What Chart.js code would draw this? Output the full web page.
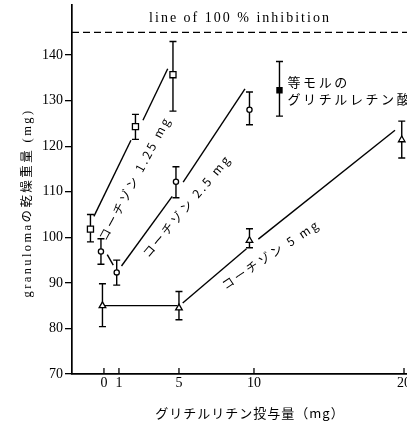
<!DOCTYPE html>
<html>
<head>
<meta charset="utf-8">
<script src="https://cdn.jsdelivr.net/npm/chart.js@4/dist/chart.umd.min.js"></script>
<style>
  html, body { margin: 0; padding: 0; background: #fff; }
</style>
</head>
<body>
<canvas id="chart" width="407" height="425"></canvas>
<script>
const xTicks = [0, 1, 5, 10, 20];
const yTicks = [70, 80, 90, 100, 110, 120, 130, 140];
const inhibitionLevel = 145;

// コーチゾン 1.25 mg (open squares)
const c125X = [-0.9, 2.1, 4.6];
const c125Y = [101.8, 124.3, 135.7];
const c125Lo = [99, 121.5, 127.7];
const c125Hi = [105, 127, 143];
const c125LineX = [[-0.67, 1.8], [2.6, 4.25]];
const c125LineY = [[104.6, 121.3], [125.7, 137]];

// コーチゾン 2.5 mg (open circles)
const c25X = [-0.2, 0.85, 4.8, 9.7];
const c25Y = [96.9, 92.3, 112.2, 128];
const c25Lo = [94.1, 89.5, 108.7, 124.7];
const c25Hi = [99.7, 95, 115.5, 131.9];
const c25LineX = [[0.22, 0.62], [1.17, 4.55], [5.28, 9.4]];
const c25LineY = [[96.2, 93.9], [93.7, 109], [112.1, 132.6]];

// コーチゾン 5 mg (open triangles)
const c5X = [-0.1, 5, 9.7, 19.85];
const c5Y = [85, 84.5, 99.3, 121.4];
const c5Lo = [80.4, 81.9, 97.7, 117.4];
const c5Hi = [89.8, 88.1, 101.9, 125.5];
const c5LineX = [[-0.1, 4.9], [5.25, 9.5], [10.29, 19.4]];
const c5LineY = [[85, 85], [85.6, 97.5], [99.6, 123.5]];

// 等モルのグリチルレチン酸 (filled square)
const gaX = [11.7];
const gaY = [132.3];
const gaLo = [126.6];
const gaHi = [138.6];

const ink = '#000';
const serif = '"Liberation Serif", "Noto Sans CJK JP", serif';
const jp = '"Noto Sans CJK JP", "Liberation Serif", sans-serif';

function pts(xs, ys) {
    return xs.map((x, i) => ({ x: x, y: ys[i] }));
}

function markerSet(xs, ys, lo, hi, style, radius, fill) {
    return {
        data: pts(xs, ys),
        errLo: lo,
        errHi: hi,
        showLine: false,
        pointStyle: style,
        pointRadius: radius,
        pointBackgroundColor: fill,
        pointBorderColor: ink,
        pointBorderWidth: 1.3,
        order: 0,
    };
}

function lineSets(xsList, ysList) {
    return xsList.map((xs, i) => ({
        data: pts(xs, ysList[i]),
        showLine: true,
        borderColor: ink,
        borderWidth: 1.4,
        pointRadius: 0,
        order: 1,
    }));
}

const lineLabels = [
    { text: 'コーチゾン 1.25 mg', x: -0.13, y: 99.5, angle: -62 },
    { text: 'コーチゾン 2.5 mg', x: 2.73, y: 96.0, angle: -50 },
    { text: 'コーチゾン 5 mg', x: 7.93, y: 89.3, angle: -33.5 },
];

const decor = {
    id: 'decor',
    beforeDatasetsDraw(chart) {
        const ctx = chart.ctx;
        const xs = chart.scales.x;
        const ys = chart.scales.y;
        ctx.save();
        ctx.strokeStyle = ink;
        ctx.lineWidth = 1.4;
        chart.data.datasets.forEach((ds) => {
            if (!ds.errLo) return;
            ds.data.forEach((p, i) => {
                const px = xs.getPixelForValue(p.x);
                const top = ys.getPixelForValue(ds.errHi[i]);
                const bot = ys.getPixelForValue(ds.errLo[i]);
                ctx.beginPath();
                ctx.moveTo(px, top);
                ctx.lineTo(px, bot);
                ctx.moveTo(px - 3.5, top);
                ctx.lineTo(px + 3.5, top);
                ctx.moveTo(px - 3.5, bot);
                ctx.lineTo(px + 3.5, bot);
                ctx.stroke();
            });
        });
        ctx.restore();
    },
    afterDraw(chart) {
        const ctx = chart.ctx;
        const xs = chart.scales.x;
        const ys = chart.scales.y;
        const area = chart.chartArea;
        ctx.save();
        ctx.strokeStyle = ink;
        ctx.fillStyle = ink;

        // x ticks point inward, labels below the axis
        ctx.lineWidth = 1.3;
        ctx.font = '14px ' + serif;
        ctx.textAlign = 'center';
        ctx.textBaseline = 'middle';
        xTicks.forEach((v) => {
            const px = xs.getPixelForValue(v);
            ctx.beginPath();
            ctx.moveTo(px, area.bottom);
            ctx.lineTo(px, area.bottom - 6);
            ctx.stroke();
            ctx.fillText(String(v), px, area.bottom + 9);
        });

        // line of 100 % inhibition
        const yl = ys.getPixelForValue(inhibitionLevel);
        ctx.setLineDash([7, 4]);
        ctx.beginPath();
        ctx.moveTo(area.left, yl);
        ctx.lineTo(area.right, yl);
        ctx.stroke();
        ctx.setLineDash([]);

        ctx.font = '14px ' + serif;
        ctx.letterSpacing = '2px';
        ctx.fillText('line of 100 % inhibition', 240, 18);

        // labels along the fitted lines
        ctx.font = '12px ' + jp;
        ctx.letterSpacing = '2.5px';
        ctx.textAlign = 'left';
        lineLabels.forEach((l) => {
            ctx.save();
            ctx.translate(xs.getPixelForValue(l.x), ys.getPixelForValue(l.y));
            ctx.rotate(l.angle * Math.PI / 180);
            ctx.fillText(l.text, 0, 0);
            ctx.restore();
        });

        // label of the filled square
        const gx = xs.getPixelForValue(gaX[0]) + 8;
        const gy = ys.getPixelForValue(gaY[0]);
        ctx.font = '13px ' + jp;
        ctx.letterSpacing = '2.6px';
        ctx.fillText('等モルの', gx, gy - 8);
        ctx.fillText('グリチルレチン酸', gx, gy + 8.5);

        // axis titles
        ctx.textAlign = 'center';
        ctx.font = '13px ' + jp;
        ctx.letterSpacing = '1px';
        ctx.fillText('グリチルリチン投与量（mg）', 250, 413);

        ctx.save();
        ctx.translate(28, 203);
        ctx.rotate(-Math.PI / 2);
        ctx.font = '12.5px ' + serif;
        ctx.letterSpacing = '2.4px';
        ctx.fillText('granulomaの乾燥重量 (mg)', 0, 0);
        ctx.restore();

        ctx.restore();
    },
};

new Chart(document.getElementById('chart'), {
    type: 'scatter',
    data: {
        datasets: [
            markerSet(c125X, c125Y, c125Lo, c125Hi, 'rect', 4.3, '#fff'),
            markerSet(c25X, c25Y, c25Lo, c25Hi, 'circle', 2.6, '#fff'),
            markerSet(c5X, c5Y, c5Lo, c5Hi, 'triangle', 3.8, '#fff'),
            markerSet(gaX, gaY, gaLo, gaHi, 'rect', 3.6, ink),
            ...lineSets(c125LineX, c125LineY),
            ...lineSets(c25LineX, c25LineY),
            ...lineSets(c5LineX, c5LineY),
        ],
    },
    options: {
        responsive: false,
        devicePixelRatio: 1,
        animation: false,
        layout: { autoPadding: false, padding: { top: 5, left: 0, right: 0, bottom: 0 } },
        plugins: {
            legend: { display: false },
            tooltip: { enabled: false },
        },
        scales: {
            x: {
                type: 'linear',
                min: -2.13,
                max: 20.2,
                afterBuildTicks: (s) => { s.ticks = xTicks.map((v) => ({ value: v })); },
                afterFit: (s) => { s.height = 51; },
                grid: { display: false },
                border: { display: true, color: ink, width: 1.7 },
                ticks: { display: false },
            },
            y: {
                type: 'linear',
                min: 70,
                max: 151,
                afterBuildTicks: (s) => { s.ticks = yTicks.map((v) => ({ value: v })); },
                afterFit: (s) => { s.width = 72; s.paddingTop = 0; s.paddingBottom = 0; },
                grid: { drawOnChartArea: false, tickLength: 7, color: ink, lineWidth: 1.3 },
                border: { display: true, color: ink, width: 1.7 },
                ticks: {
                    padding: 2,
                    color: ink,
                    font: { family: serif, size: 14 },
                },
            },
        },
    },
    plugins: [decor],
});
</script>
</body>
</html>
